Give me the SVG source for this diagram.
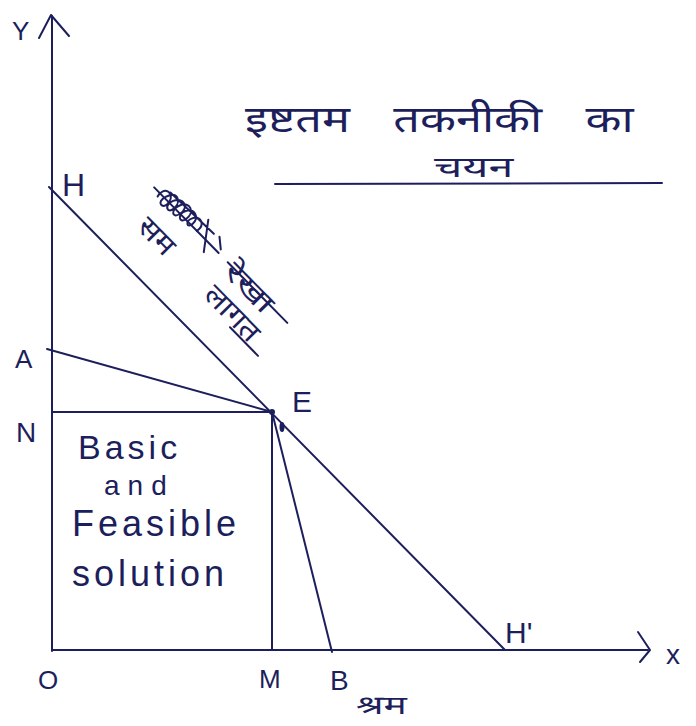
<svg xmlns="http://www.w3.org/2000/svg" width="696" height="726" viewBox="0 0 696 726">
<style>
.ln{stroke:#1d1f5c;stroke-width:2;fill:none;stroke-linecap:round;stroke-linejoin:round}
.t{fill:#1d1f5c;font-family:"Liberation Sans","Noto Sans",sans-serif}
.hi{fill:#1d1f5c;font-family:"Noto Sans Devanagari","Noto Sans","Lohit Devanagari",sans-serif}
</style>
<rect width="696" height="726" fill="#ffffff"/>
<g id="connectors">
  <line class="ln" x1="52" y1="16" x2="52" y2="651"/>
  <polyline class="ln" points="39,38 51,15 69,36"/>
  <line class="ln" x1="52" y1="650" x2="648" y2="650"/>
  <polyline class="ln" points="638,632 650,650 640,662"/>
  <line class="ln" x1="49" y1="187" x2="505" y2="650"/>
  <line class="ln" x1="47" y1="349" x2="272" y2="412"/>
  <line class="ln" x1="52" y1="412" x2="272" y2="412"/>
  <line class="ln" x1="272" y1="412" x2="272" y2="650"/>
  <line class="ln" x1="272" y1="412" x2="332" y2="652"/>
  <circle cx="272" cy="412" r="3" fill="#1d1f5c"/>
  <ellipse cx="282" cy="427" rx="2.5" ry="5" fill="#1d1f5c"/>
</g>
<g id="axis-y"><text class="t" x="12" y="40" font-size="26">Y</text></g>
<g id="axis-x"><text class="t" x="666" y="664" font-size="28">x</text></g>
<g id="origin"><text class="t" x="38" y="689" font-size="26">O</text></g>
<g id="H"><text class="t" x="62" y="196" font-size="32">H</text></g>
<g id="A"><text class="t" x="15" y="368" font-size="26">A</text></g>
<g id="N"><text class="t" x="16" y="442" font-size="28">N</text></g>
<g id="E"><text class="t" x="292" y="412" font-size="30">E</text></g>
<g id="M"><text class="t" x="259" y="688" font-size="26">M</text></g>
<g id="B"><text class="t" x="330" y="690" font-size="28">B</text></g>
<g id="H-prime"><text class="t" x="505" y="643" font-size="30">H'</text></g>
<g id="labour"><text class="hi" transform="translate(356,714) scale(1.5,1)" font-size="26">श्रम</text></g>
<g id="title">
  <text class="hi" transform="translate(245,132) scale(1.3,1)" font-size="36" word-spacing="24">इष्टतम तकनीकी का</text>
  <text class="hi" transform="translate(434,177) scale(1.6,1)" font-size="28">चयन</text>
  <line class="ln" x1="275" y1="184" x2="662" y2="183" stroke-width="1.5"/>
</g>
<g id="region">
  <text class="t" x="78" y="459" font-size="34" letter-spacing="4">Basic</text>
  <text class="t" x="104" y="495" font-size="28" letter-spacing="8">and</text>
  <text class="t" x="72" y="536" font-size="36" letter-spacing="4">Feasible</text>
  <text class="t" x="72" y="586" font-size="36" letter-spacing="4">solution</text>
</g>
<g id="line-label" transform="translate(53,190) rotate(45.5)">
  <line class="ln" x1="69" y1="-74" x2="161" y2="-74"/>
  <line class="ln" x1="174" y1="-74" x2="259" y2="-74"/>
  <line class="ln" x1="222" y1="-30" x2="262" y2="-30"/>
  <path class="ln" stroke-width="2.2" d="M78,-70 c-4,-12 10,-16 12,-4 c2,10 -10,10 -6,-2 c4,-12 14,-8 14,2 c0,10 -10,6 -6,-4 c4,-10 16,-8 14,4 c-2,10 -10,4 -6,-6 c4,-10 16,-6 14,6 c-2,8 -10,2 -6,-6 c4,-8 14,-6 14,4 c0,8 -8,4 -4,-4 c4,-8 14,-4 12,6 M84,-82 l60,-2 M130,-90 l20,26 M150,-86 l10,8"/>
  <text class="hi" transform="translate(85,-32) scale(1.15,1)" font-size="28" word-spacing="40">सम लागत</text>
  <text class="hi" transform="translate(178,-62) scale(1.4,1)" font-size="28">रेखा</text>
</g>
</svg>
